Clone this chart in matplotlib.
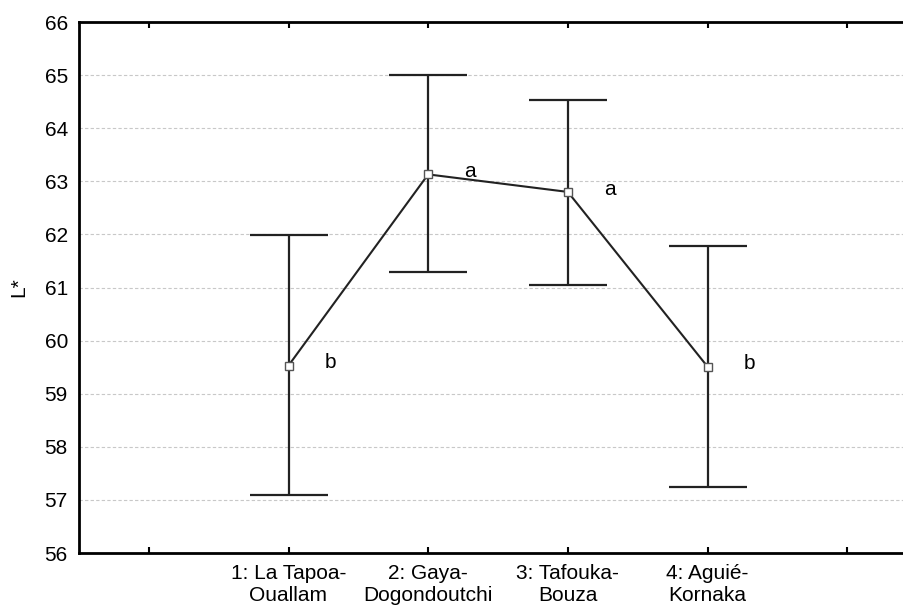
import matplotlib
matplotlib.use("Agg")
import matplotlib.pyplot as plt
import numpy as np

plt.rcParams['font.family'] = ['Liberation Sans', 'DejaVu Sans']

categories = ["1: La Tapoa-\nOuallam", "2: Gaya-\nDogondoutchi", "3: Tafouka-\nBouza", "4: Aguié-\nKornaka"]
means = [59.53, 63.13, 62.80, 59.51]
upper = [61.98, 65.00, 64.53, 61.78]
lower = [57.09, 61.30, 61.05, 57.24]
letters = ["b", "a", "a", "b"]
positions = [1, 2, 3, 4]
yticks = [56, 57, 58, 59, 60, 61, 62, 63, 64, 65, 66]

fig = plt.figure(figsize=(9.04, 6.08), dpi=100)
ax = fig.add_axes([79/904, 1-553/608, 838/904, 531/608])

ax.set_xlim(-0.5, 5.5)
ax.set_ylim(56, 66)

for y in yticks[1:-1]:
    ax.axhline(y, color='#c8c8c8', lw=0.8, ls=(0, (3, 2)), zorder=0)

m = np.array(means)
yerr = np.vstack([m - np.array(lower), np.array(upper) - m])
ax.errorbar(positions, means, yerr=yerr, fmt='none', ecolor='#222222',
            elinewidth=1.6, capsize=28.4, capthick=1.6, zorder=2)
ax.plot(positions, means, color='#222222', lw=1.5, zorder=3,
        marker='s', markersize=6, markerfacecolor='white',
        markeredgecolor='#555555', markeredgewidth=1.0)

for x, y, t in zip(positions, means, letters):
    ax.annotate(t, (x, y), xytext=(30, -2), textcoords='offset points',
                fontsize=15, ha='center', va='baseline', color='black')

ax.set_xticks([0, 1, 2, 3, 4, 5])
ax.set_xticklabels([""] + categories + [""], fontsize=15, linespacing=1.2)
ax.set_yticks(yticks)
ax.set_yticklabels([str(v) for v in yticks], fontsize=15)
ax.tick_params(axis='x', direction='in', length=4, width=1.5, top=True, pad=8)
ax.tick_params(axis='y', direction='in', length=0, pad=8)
ax.set_ylabel("L*", fontsize=15, labelpad=12)

for s in ['left', 'bottom', 'top']:
    ax.spines[s].set_linewidth(2.0)
ax.spines['right'].set_visible(False)

fig.savefig("out.png", dpi=100)
